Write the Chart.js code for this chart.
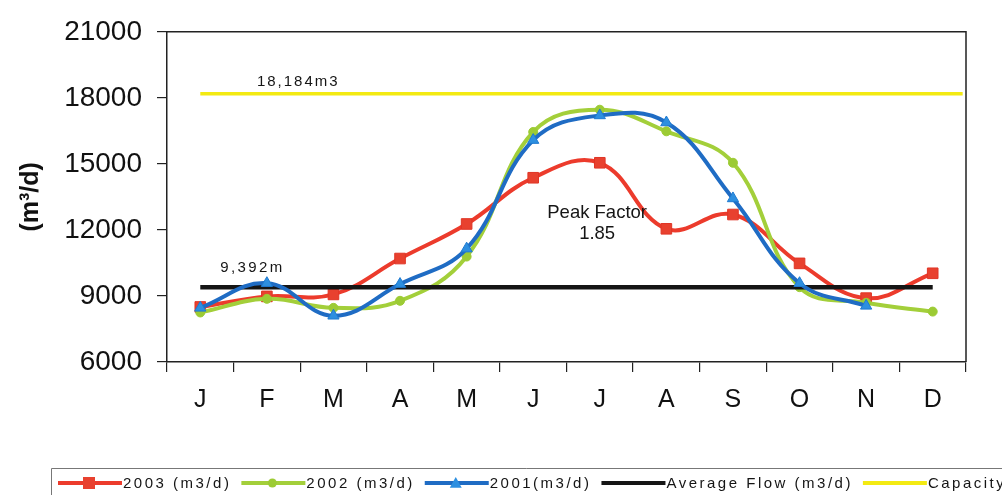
<!DOCTYPE html>
<html>
<head>
<meta charset="utf-8">
<script src="https://cdn.jsdelivr.net/npm/chart.js@4/dist/chart.umd.min.js"></script>
<style>
  html, body { margin: 0; padding: 0; background: #ffffff; overflow: hidden; }
  canvas { display: block; }
</style>
</head>
<body>
<canvas id="flowChart" width="1002" height="495"></canvas>
<script>
// Monthly wastewater flow, m3/d
const months = ['J', 'F', 'M', 'A', 'M', 'J', 'J', 'A', 'S', 'O', 'N', 'D'];
const flow2003 = [8500, 8980, 9070, 10700, 12270, 14370, 15050, 12050, 12700, 10480, 8900, 10030];
const flow2002 = [8250, 8870, 8460, 8780, 10790, 16450, 17460, 16480, 15050, 9400, 8690, 8290];
const flow2001 = [8460, 9580, 8100, 9540, 11150, 16080, 17200, 16880, 13430, 9580, 8550, null];
const averageFlow = 9392;
const capacity = 18184;
const peakFactor = 1.85;
const yTicks = [6000, 9000, 12000, 15000, 18000, 21000];

const FONT = '"Liberation Sans", Arial, Helvetica, sans-serif';
Chart.defaults.font.family = FONT;

const RED = '#ec3b2c', GREEN = '#a3cf3a', BLUE = '#1f6cc4', BLACK = '#151515', YELLOW = '#f3ea12';

const fmt = v => v.toLocaleString('en-US');

// box around the plot (top and right edges)
const frame = {
  id: 'frame',
  afterDatasetsDraw(chart) {
    const { ctx, chartArea: a } = chart;
    ctx.save();
    ctx.strokeStyle = '#222';
    ctx.lineWidth = 1.5;
    ctx.beginPath();
    ctx.moveTo(a.left, a.top);
    ctx.lineTo(a.right, a.top);
    ctx.lineTo(a.right, a.bottom);
    ctx.stroke();
    ctx.restore();
  }
};

// value notes written inside the plot
const notes = {
  id: 'notes',
  afterDatasetsDraw(chart) {
    const { ctx } = chart;
    const y = chart.scales.y, xc = chart.scales.xc;
    ctx.save();
    ctx.fillStyle = '#151515';
    ctx.textBaseline = 'alphabetic';
    ctx.textAlign = 'left';
    ctx.font = '15px ' + FONT;
    ctx.letterSpacing = '2px';
    ctx.fillText(fmt(capacity) + 'm3', xc.getPixelForValue(1.35), y.getPixelForValue(capacity) - 8);
    ctx.letterSpacing = '2.4px';
    ctx.fillText(fmt(averageFlow) + 'm', xc.getPixelForValue(0.8), y.getPixelForValue(averageFlow) - 15);
    ctx.letterSpacing = '0px';
    ctx.textAlign = 'center';
    ctx.textBaseline = 'middle';
    ctx.font = '18.5px ' + FONT;
    const px = xc.getPixelForValue(6.46);
    const py = y.getPixelForValue(12330);
    ctx.fillText('Peak Factor', px, py - 10);
    ctx.fillText(peakFactor.toFixed(2), px, py + 11);
    ctx.restore();
  }
};

function marker(ctx, style, r, x, y, fill) {
  ctx.fillStyle = fill;
  ctx.beginPath();
  if (style === 'rect') {
    ctx.rect(x - r, y - r, 2 * r, 2 * r);
  } else if (style === 'triangle') {
    ctx.moveTo(x, y - r);
    ctx.lineTo(x + r, y + r * 0.8);
    ctx.lineTo(x - r, y + r * 0.8);
    ctx.closePath();
  } else {
    ctx.arc(x, y, r, 0, Math.PI * 2);
  }
  ctx.fill();
}

// legend row along the bottom edge
const flowLegend = {
  id: 'flowLegend',
  afterDraw(chart) {
    const { ctx } = chart;
    ctx.save();
    ctx.strokeStyle = '#777';
    ctx.lineWidth = 1;
    ctx.beginPath();
    ctx.moveTo(51.5, 495);
    ctx.lineTo(51.5, 468.5);
    ctx.lineTo(1002, 468.5);
    ctx.stroke();
    ctx.font = '15px ' + FONT;
    ctx.letterSpacing = '2.5px';
    ctx.textBaseline = 'middle';
    ctx.textAlign = 'left';
    let x = 58;
    const yc = 483;
    chart.data.datasets.forEach(ds => {
      ctx.strokeStyle = ds.borderColor;
      ctx.lineWidth = 4;
      ctx.beginPath();
      ctx.moveTo(x, yc);
      ctx.lineTo(x + 64, yc);
      ctx.stroke();
      if (ds.legendMarker) marker(ctx, ds.legendMarker.style, ds.legendMarker.r, x + 31, yc, ds.pointBackgroundColor);
      ctx.fillStyle = '#151515';
      ctx.fillText(ds.label, x + 65, yc + 1);
      x += 65 + ctx.measureText(ds.label).width + 10;
    });
    ctx.restore();
  }
};

new Chart(document.getElementById('flowChart'), {
  type: 'line',
  data: {
    labels: months,
    datasets: [
      {
        label: '2003 (m3/d)', data: flow2003, order: 4,
        borderColor: RED, borderWidth: 4, tension: 0.4,
        pointStyle: 'rect', pointRadius: 7.5, pointBackgroundColor: '#e8412f', pointBorderColor: '#e03526', pointBorderWidth: 1,
        legendMarker: { style: 'rect', r: 6 }
      },
      {
        label: '2002 (m3/d)', data: flow2002, order: 3,
        borderColor: GREEN, borderWidth: 4, tension: 0.4,
        pointStyle: 'circle', pointRadius: 4.5, pointBackgroundColor: '#9ccb34', pointBorderColor: '#9ccb34', pointBorderWidth: 1,
        legendMarker: { style: 'circle', r: 4.5 }
      },
      {
        label: '2001(m3/d)', data: flow2001, order: 1, spanGaps: false,
        borderColor: BLUE, borderWidth: 4, tension: 0.4,
        pointStyle: 'triangle', pointRadius: 6.5, pointBackgroundColor: '#2d8fe0', pointBorderColor: '#1f7ad0', pointBorderWidth: 1,
        legendMarker: { style: 'triangle', r: 6 }
      },
      {
        label: 'Average Flow (m3/d)', data: months.map(() => averageFlow), order: 2,
        borderColor: BLACK, borderWidth: 4.5, pointRadius: 0, tension: 0
      },
      {
        label: 'Capacity', xAxisID: 'xc', order: 5,
        data: [{ x: 0.5, y: capacity }, { x: 11.95, y: capacity }],
        borderColor: YELLOW, borderWidth: 3.5, pointRadius: 0, tension: 0
      }
    ]
  },
  options: {
    responsive: false,
    animation: false,
    devicePixelRatio: 1,
    layout: { padding: { top: 27, right: 36, bottom: 60, left: 0 } },
    plugins: { legend: { display: false }, tooltip: { enabled: false } },
    scales: {
      x: {
        type: 'category',
        offset: true,
        grid: { offset: true, drawOnChartArea: false, tickLength: 10, color: '#222', lineWidth: 1.2 },
        border: { color: '#222', width: 1.5 },
        ticks: { font: { size: 25 }, color: '#111', padding: 13, maxRotation: 0, autoSkip: false },
        afterFit(s) { s.height = 73; }
      },
      xc: { type: 'linear', min: 0, max: 12, display: false },
      y: {
        min: 6000, max: 21000,
        afterBuildTicks(s) { s.ticks = yTicks.map(v => ({ value: v })); },
        grid: { drawOnChartArea: false, tickLength: 10, color: '#222', lineWidth: 1.2 },
        border: { color: '#222', width: 1.5 },
        ticks: { font: { size: 28 }, color: '#111', padding: 15, callback: v => String(v) },
        title: { display: true, text: '(m³/d)', font: { size: 25, weight: 'bold' }, color: '#111', padding: { top: 16, bottom: 0 } },
        afterFit(s) { s.width = 167; }
      }
    }
  },
  plugins: [frame, notes, flowLegend]
});
</script>
</body>
</html>
